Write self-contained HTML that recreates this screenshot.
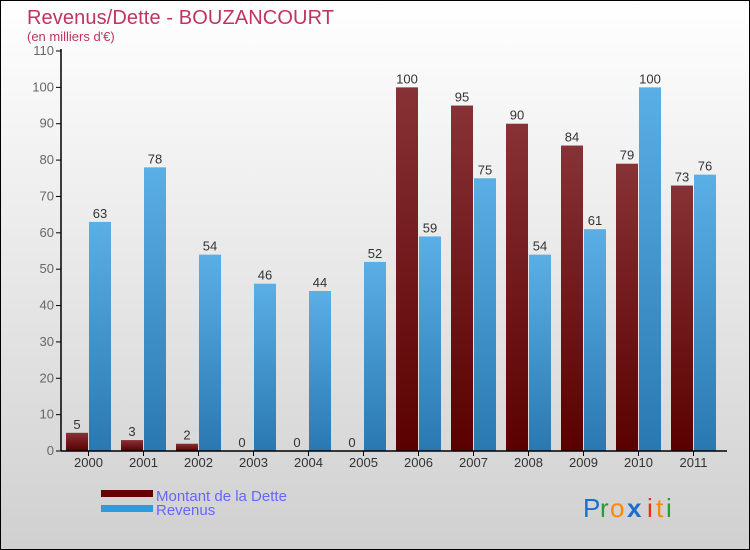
<!DOCTYPE html>
<html><head><meta charset="utf-8"><style>
body{margin:0}
#c{width:750px;height:550px;position:relative;box-sizing:border-box;border:1px solid #000;background:linear-gradient(#ffffff,#d0d0d0);font-family:"Liberation Sans",sans-serif;overflow:hidden}
svg text{font-family:"Liberation Sans",sans-serif}
</style></head><body>
<div id="c">
<svg id="s" width="750" height="550">
<defs>
<linearGradient id="gd" x1="0" y1="0" x2="0" y2="1"><stop offset="0" stop-color="#873236"/><stop offset="1" stop-color="#5a0000"/></linearGradient>
<linearGradient id="gr" x1="0" y1="0" x2="0" y2="1"><stop offset="0" stop-color="#5aafe6"/><stop offset="1" stop-color="#2a78b2"/></linearGradient>
</defs>
<text x="26" y="23" font-size="20" fill="#c0345f" textLength="307">Revenus/Dette - BOUZANCOURT</text>
<text x="26" y="40" font-size="13" fill="#c0345f">(en milliers d'€)</text>
<g id="g"></g>
<rect x="100" y="489" width="52" height="7" fill="#660000"/>
<rect x="100" y="504" width="52" height="7" fill="#3399dd"/>
<text x="155" y="500" font-size="15" fill="#6666ff">Montant de la Dette</text>
<text x="155" y="514" font-size="15" fill="#6666ff">Revenus</text>
<g font-size="26">
<text x="582" y="516" fill="#1a6fcc">P</text><text x="599" y="516" fill="#2a9a3a">r</text><text x="609" y="516" fill="#ff8800">o</text><text x="626" y="516" fill="#1a6fcc" font-weight="bold">x</text><text x="646" y="516" fill="#e83010">i</text><text x="655" y="516" fill="#ff8800">t</text><text x="665" y="516" fill="#2a9a3a">i</text>
</g>
</svg>
</div>
<script>
const years=["2000","2001","2002","2003","2004","2005","2006","2007","2008","2009","2010","2011"];
const dette=[5,3,2,0,0,0,100,95,90,84,79,73];
const revenus=[63,78,54,46,44,52,59,75,54,61,100,76];
const ticks=[0,10,20,30,40,50,60,70,80,90,100,110];
const NS="http://www.w3.org/2000/svg";
const g=document.getElementById('g');
const x0=60,band=55,yb=450,ppu=400/110;
const y=v=>yb-v*ppu;
function mk(t,a){const e=document.createElementNS(NS,t);for(const k in a)e.setAttribute(k,a[k]);g.appendChild(e);return e;}
ticks.forEach(t=>{
 const l=mk('line',{x1:55,x2:60,y1:y(t),y2:y(t),stroke:'#000'});
 
 
 const tx=mk('text',{x:53,y:y(t)+4,'font-size':13,fill:'#666','text-anchor':'end'});tx.textContent=t;
 
 
});
years.forEach((yr,i)=>{
 const b=x0+i*band;
 const d=mk('rect',{x:b+5,y:y(dette[i]),width:22,height:dette[i]*ppu,fill:'url(#gd)'});
 
 
 const r=mk('rect',{x:b+28,y:y(revenus[i]),width:22,height:revenus[i]*ppu,fill:'url(#gr)'});
 
 
 const dl=mk('text',{x:b+16,y:y(dette[i])-4,'font-size':13,fill:'#333','text-anchor':'middle'});dl.textContent=dette[i];
 
 
 const rl=mk('text',{x:b+39,y:y(revenus[i])-4,'font-size':13,fill:'#333','text-anchor':'middle'});rl.textContent=revenus[i];
 
 
 const tk=mk('line',{x1:b+27.5,x2:b+27.5,y1:450,y2:455,stroke:'#000'});
 
 
 const xl=mk('text',{x:b+27.5,y:466,'font-size':13,fill:'#333','text-anchor':'middle'});xl.textContent=yr;
 
 
});
const ya=mk('line',{x1:60,x2:60,y1:48,y2:450,stroke:'#000','stroke-width':1.5});


const xa=mk('line',{x1:60,x2:726,y1:450,y2:450,stroke:'#000','stroke-width':1.5});


</script>
</body></html>
